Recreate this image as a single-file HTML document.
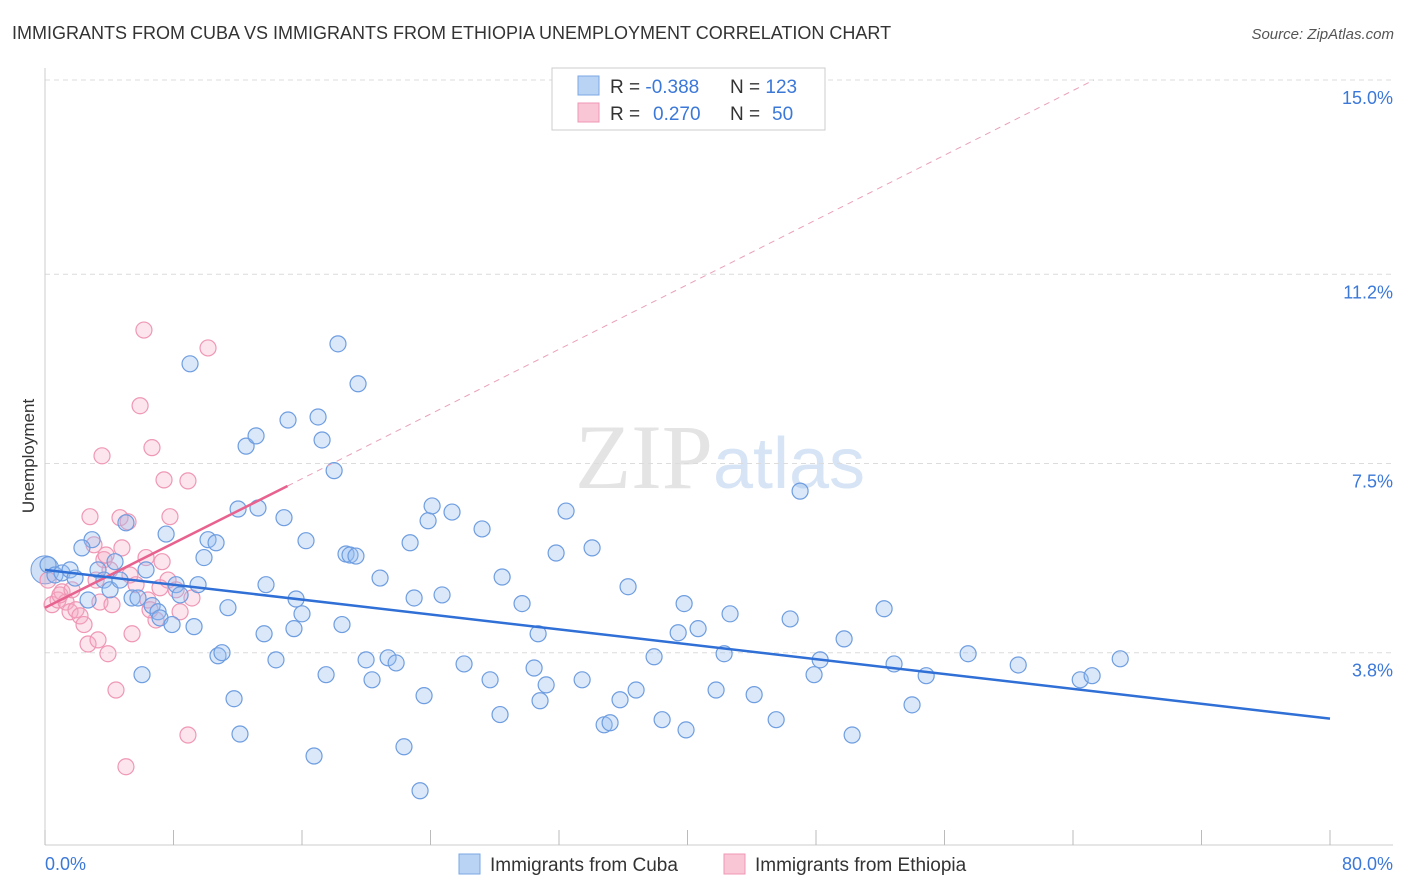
<!DOCTYPE html>
<html><head><meta charset="utf-8"><style>
body{margin:0;background:#fff;font-family:"Liberation Sans",sans-serif;}
svg{display:block}
</style></head><body>
<svg id="chart" width="1406" height="892" viewBox="0 0 1406 892" xmlns="http://www.w3.org/2000/svg">
<text x="12" y="39" font-size="18" fill="#333">IMMIGRANTS FROM CUBA VS IMMIGRANTS FROM ETHIOPIA UNEMPLOYMENT CORRELATION CHART</text>
<text x="1394" y="39" font-size="15" fill="#555" font-style="italic" text-anchor="end">Source: ZipAtlas.com</text>
<text x="720" y="488" font-size="92" text-anchor="middle" fill="#e4e4e4" font-family="Liberation Serif,serif">ZIP<tspan fill="#d6e4f5" font-family="Liberation Sans,sans-serif" font-size="72">atlas</tspan></text>
<text transform="translate(34,456) rotate(-90)" font-size="17" fill="#333" text-anchor="middle">Unemployment</text>
<g id="grid"></g><g id="axes"></g><g id="marks"></g>
<g>
<rect x="552" y="68" width="273" height="62" fill="#fff" stroke="#ccc"/>
<rect x="578" y="76" width="21" height="19" fill="#b9d3f5" stroke="#7aa7e3"/>
<rect x="578" y="103" width="21" height="19" fill="#f9c6d6" stroke="#ef97b4"/>
<text x="610" y="93" font-size="19" fill="#333">R = <tspan fill="#3b78d8">-0.388</tspan></text>
<text x="730" y="93" font-size="19" fill="#333">N = <tspan fill="#3b78d8">123</tspan></text>
<text x="610" y="120" font-size="19" fill="#333">R = <tspan fill="#3b78d8" x="653">0.270</tspan></text>
<text x="730" y="120" font-size="19" fill="#333">N = <tspan fill="#3b78d8" x="772">50</tspan></text>
</g>
<g>
<rect x="459" y="854" width="21" height="20" fill="#b9d3f5" stroke="#7aa7e3"/>
<text x="490" y="871" font-size="19" fill="#333">Immigrants from Cuba</text>
<rect x="724" y="854" width="21" height="20" fill="#f9c6d6" stroke="#ef97b4"/>
<text x="755" y="871" font-size="19" fill="#333">Immigrants from Ethiopia</text>
</g>
</svg>
<script>
const yTicks=[15.0,11.2,7.5,3.8];
const yTickLabels=["15.0%","11.2%","7.5%","3.8%"];
const xTicks=[0,8,16,24,32,40,48,56,64,72,80];
const xEndLabels=["0.0%","80.0%"];
const cubaX=[0.19,0.62,1.06,1.56,1.87,2.68,2.93,2.30,3.30,3.67,4.05,4.36,4.67,5.04,5.42,5.79,6.04,6.29,6.67,7.04,7.16,7.54,7.91,8.16,8.41,9.03,9.28,9.53,9.90,10.15,10.65,10.77,11.02,11.39,11.77,12.02,12.14,12.52,13.14,13.26,13.64,13.76,14.38,14.88,15.13,15.50,15.63,16.00,16.25,16.75,17.00,17.25,17.50,18.00,18.24,18.49,18.74,18.99,19.36,19.49,19.99,20.36,20.86,21.36,21.86,22.35,22.73,22.98,23.35,23.60,23.85,24.10,24.72,25.34,26.09,27.21,27.71,28.33,28.46,29.70,30.45,30.70,30.82,31.20,31.82,32.44,33.44,34.06,34.81,35.18,35.80,36.30,36.80,37.92,38.42,39.42,39.79,39.91,40.66,41.78,42.28,42.65,44.15,45.52,46.39,47.01,47.88,48.26,49.75,50.25,52.24,52.86,53.98,54.86,57.47,60.59,64.45,65.19,66.94];
const cubaY=[5.52,5.32,5.36,5.42,5.26,4.83,6.01,5.85,5.42,5.22,5.03,5.58,5.22,6.34,4.87,4.87,3.37,5.42,4.72,4.60,4.48,6.12,4.35,5.13,4.93,9.45,4.31,5.13,5.66,6.01,5.95,3.74,3.80,4.68,2.90,6.61,2.21,7.84,8.04,6.63,4.17,5.13,3.66,6.44,8.35,4.27,4.85,4.56,5.99,1.78,8.41,7.96,3.37,7.36,9.84,4.35,5.73,5.71,5.69,9.06,3.66,3.27,5.26,3.70,3.60,1.96,5.95,4.87,1.10,2.96,6.38,6.67,4.93,6.55,3.58,6.22,3.27,2.59,5.28,4.76,3.50,4.17,2.86,3.17,5.75,6.57,3.27,5.85,2.39,2.43,2.88,5.09,3.07,3.72,2.49,4.19,4.76,2.29,4.27,3.07,3.78,4.56,2.98,2.49,4.46,6.96,3.37,3.66,4.07,2.19,4.66,3.58,2.78,3.35,3.78,3.56,3.27,3.35,3.68];
const ethX=[0.19,0.44,0.81,1.06,1.31,1.56,1.93,2.18,2.43,2.68,2.80,3.05,3.30,3.42,3.55,3.67,3.80,3.92,4.17,4.42,4.67,4.79,5.04,5.17,5.42,5.67,5.92,6.16,6.29,6.41,6.66,6.91,7.16,7.29,7.41,7.66,7.78,8.16,8.41,8.90,8.90,9.15,10.15,0.93,1.68,3.18,4.05,5.29,6.54];
const ethY=[5.22,4.74,4.83,4.99,4.79,4.60,4.64,4.52,4.35,3.97,6.46,5.91,4.05,4.79,7.65,5.62,5.71,3.78,4.74,3.07,6.44,5.85,1.57,6.36,4.17,5.13,8.63,10.11,5.66,4.83,7.81,4.44,5.07,5.58,7.18,5.22,6.46,5.03,4.60,2.19,7.16,4.87,9.76,4.93,5.03,5.22,5.42,5.32,4.64];
const cubaTrend=[[0,5.42],[80,2.51]];
const ethTrend=[[0,4.68],[15.1,7.06]];
const ethTrendExt=[[15.1,7.06],[65.3,15.0]];

const NS="http://www.w3.org/2000/svg";
const X=v=>45+v*(1330-45)/80;
const Y=v=>847-v*(847-80)/15;
function mk(tag,attrs,parent){const e=document.createElementNS(NS,tag);for(const k in attrs)e.setAttribute(k,attrs[k]);parent.appendChild(e);return e;}
const grid=document.getElementById('grid'),axes=document.getElementById('axes'),marks=document.getElementById('marks');
yTicks.forEach((t,i)=>{
  const l=mk('line',{x1:45,x2:1393,y1:Y(t),y2:Y(t),stroke:'#dcdcdc','stroke-dasharray':'5,4'},grid);
  
  
  const tx=mk('text',{x:1393,y:Y(t)+24,'font-size':18,fill:'#3b78d8','text-anchor':'end'},axes);
  tx.textContent=yTickLabels[i];
  
  
});
const ax=mk('line',{x1:45,x2:45,y1:68,y2:845,stroke:'#ccc'},axes);


const bx=mk('line',{x1:45,x2:1393,y1:845,y2:845,stroke:'#ccc'},axes);


xTicks.forEach(t=>{
  const l=mk('line',{x1:X(t),x2:X(t),y1:830,y2:845,stroke:'#bbb'},axes);
  
  
});
[[0,'start'],[80,'end']].forEach((p,i)=>{
  const tx=mk('text',{x:i?1393:45,y:870,'font-size':18,fill:'#3b78d8','text-anchor':p[1]},axes);
  tx.textContent=xEndLabels[i];
  
  
});
// big cluster circle
const big=mk('circle',{cx:X(0),cy:Y(5.42),r:14,fill:'rgba(120,165,230,0.35)',stroke:'#6e9de0'},marks);


ethX.forEach((v,i)=>{
  const c=mk('circle',{cx:X(v),cy:Y(ethY[i]),r:8,fill:'rgba(246,170,196,0.3)',stroke:'#ef97b4','stroke-width':1.2},marks);
  
  
});
cubaX.forEach((v,i)=>{
  const c=mk('circle',{cx:X(v),cy:Y(cubaY[i]),r:8,fill:'rgba(150,190,240,0.35)',stroke:'#6e9de0','stroke-width':1.2},marks);
  
  
});
const ext=mk('line',{x1:X(ethTrendExt[0][0]),y1:Y(ethTrendExt[0][1]),x2:X(ethTrendExt[1][0]),y2:Y(ethTrendExt[1][1]),stroke:'#eaa0b8','stroke-dasharray':'6,5','stroke-width':1},marks);


const et=mk('line',{x1:X(ethTrend[0][0]),y1:Y(ethTrend[0][1]),x2:X(ethTrend[1][0]),y2:Y(ethTrend[1][1]),stroke:'#e8628f','stroke-width':2.5},marks);


const ct=mk('line',{x1:X(cubaTrend[0][0]),y1:Y(cubaTrend[0][1]),x2:X(cubaTrend[1][0]),y2:Y(cubaTrend[1][1]),stroke:'#2f6fd6','stroke-width':2.5},marks);


</script>
</body></html>
